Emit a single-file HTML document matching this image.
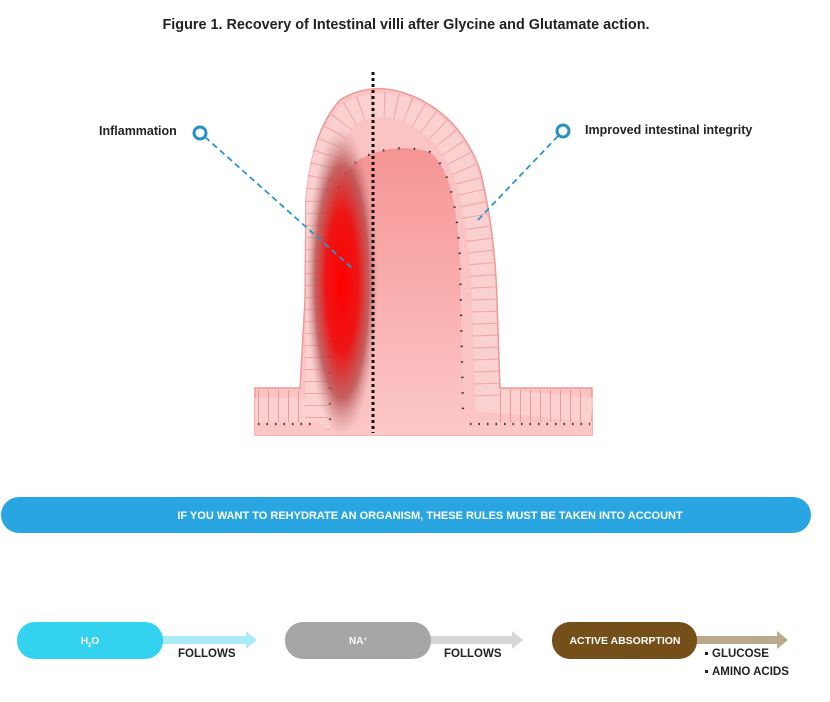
<!DOCTYPE html>
<html><head><meta charset="utf-8"><style>
body{margin:0;background:#fff;width:830px;height:697px;overflow:hidden;font-family:"Liberation Sans",sans-serif}
</style></head><body>
<svg width="830" height="697" viewBox="0 0 830 697" xmlns="http://www.w3.org/2000/svg" font-family="Liberation Sans, sans-serif">
<defs>
<linearGradient id="core" x1="0" y1="0" x2="0" y2="1"><stop offset="0" stop-color="#f69494"/><stop offset="1" stop-color="#fcc8c8"/></linearGradient>
<radialGradient id="inf" cx="0.5" cy="0.5" r="0.5">
<stop offset="0" stop-color="#ff0000"/><stop offset="0.45" stop-color="#ee1515"/><stop offset="0.75" stop-color="#b84a4a" stop-opacity="0.8"/><stop offset="1" stop-color="#c89090" stop-opacity="0"/></radialGradient>
</defs>
<text x="406" y="29" text-anchor="middle" font-size="14.4" font-weight="bold" fill="#222">Figure 1. Recovery of Intestinal villi after Glycine and Glutamate action.</text>
<path d="M255,435 L255,388 L300,388 L305,300 L306,200 Q312,130 340,100 Q372,80 410,95 Q460,115 480,170 Q495,230 497,300 L500,388 L592,388 L592,435 Z" fill="#fbc4c4" stroke="#ee9a9a" stroke-width="1.5"/>
<path d="M318,430 L318,200 Q322,140 348,115 Q375,98 408,110 Q450,128 468,180 Q482,235 484,300 L487,400 L592,410 M255,410 L318,410" fill="none" stroke="#f9d2d2" stroke-width="24" opacity="0.9"/>
<path d="M318,430 L318,200 Q322,140 348,115 Q375,98 408,110 Q450,128 468,180 Q482,235 484,300 L487,400" fill="none" stroke="#ee9a9a" stroke-width="26" stroke-dasharray="1 11" opacity="0.8"/>
<path d="M258,410 L305,410 M500,410 L590,410" stroke="#ee9a9a" stroke-width="40" stroke-dasharray="1 9" fill="none"/>
<path d="M330,432 L328,250 Q330,175 362,158 Q395,142 430,152 Q456,172 460,260 L463,400 Q470,418 500,422 L592,422 L592,435 L255,435 L255,422 L318,422 Z" fill="url(#core)"/>
<path d="M330,420 L328,250 Q330,175 362,158 Q395,142 430,152 Q456,172 460,260 L463,410" fill="none" stroke="#333" stroke-width="2.2" stroke-dasharray="1.5 14"/>
<path d="M258,424 L315,424 M470,424 L590,424" fill="none" stroke="#333" stroke-width="2.2" stroke-dasharray="1.5 7"/>
<ellipse cx="342" cy="282" rx="36" ry="155" fill="url(#inf)"/>
<line x1="373" y1="72" x2="373" y2="433" stroke="#111" stroke-width="3" stroke-dasharray="3 3"/>
<line x1="205" y1="137" x2="352" y2="268" stroke="#2a96cc" stroke-width="1.8" stroke-dasharray="6 4"/>
<circle cx="200" cy="133" r="6" fill="#fff" stroke="#2a8fc8" stroke-width="3"/>
<text x="99" y="135" font-size="12.5" font-weight="bold" fill="#222">Inflammation</text>
<line x1="558" y1="136" x2="476" y2="222" stroke="#2a96cc" stroke-width="1.8" stroke-dasharray="6 4"/>
<circle cx="563" cy="131" r="6" fill="#fff" stroke="#2a8fc8" stroke-width="3"/>
<text x="585" y="134" font-size="12.5" font-weight="bold" fill="#222">Improved intestinal integrity</text>
<rect x="1" y="497" width="810" height="36" rx="18" fill="#29a6e2"/>
<text x="430" y="519" text-anchor="middle" font-size="11" font-weight="bold" fill="#fff">IF YOU WANT TO REHYDRATE AN ORGANISM, THESE RULES MUST BE TAKEN INTO ACCOUNT</text>
<rect x="150" y="636" width="98" height="8" fill="#a9ecf8"/><path d="M246,631 L257,640 L246,649 Z" fill="#a9ecf8"/>
<rect x="17" y="622" width="146" height="37" rx="18" fill="#33d3ef"/>
<text x="90" y="644" text-anchor="middle" font-size="10" font-weight="bold" fill="#fff">H<tspan font-size="6" dy="3">2</tspan><tspan dy="-3">O</tspan></text>
<text x="178" y="657" font-size="11.5" font-weight="bold" fill="#222">FOLLOWS</text>
<rect x="418" y="636" width="96" height="8" fill="#d6d6d6"/><path d="M512,631 L523,640 L512,649 Z" fill="#d6d6d6"/>
<rect x="285" y="622" width="146" height="37" rx="18" fill="#a6a6a6"/>
<text x="358" y="644" text-anchor="middle" font-size="10" font-weight="bold" fill="#fff">NA<tspan font-size="6" dy="-3">+</tspan></text>
<text x="444" y="657" font-size="11.5" font-weight="bold" fill="#222">FOLLOWS</text>
<rect x="684" y="636" width="95" height="8" fill="#bca98c"/><path d="M777,631 L788,640 L777,649 Z" fill="#bca98c"/>
<rect x="552" y="622" width="145" height="37" rx="18" fill="#744f1a"/>
<text x="625" y="644" text-anchor="middle" font-size="10.5" font-weight="bold" fill="#fff">ACTIVE ABSORPTION</text>
<rect x="705" y="652" width="3" height="3" fill="#222"/>
<text x="712" y="657" font-size="11.5" font-weight="bold" fill="#222">GLUCOSE</text>
<rect x="705" y="670" width="3" height="3" fill="#222"/>
<text x="712" y="675" font-size="11.5" font-weight="bold" fill="#222">AMINO ACIDS</text>
</svg>
</body></html>
